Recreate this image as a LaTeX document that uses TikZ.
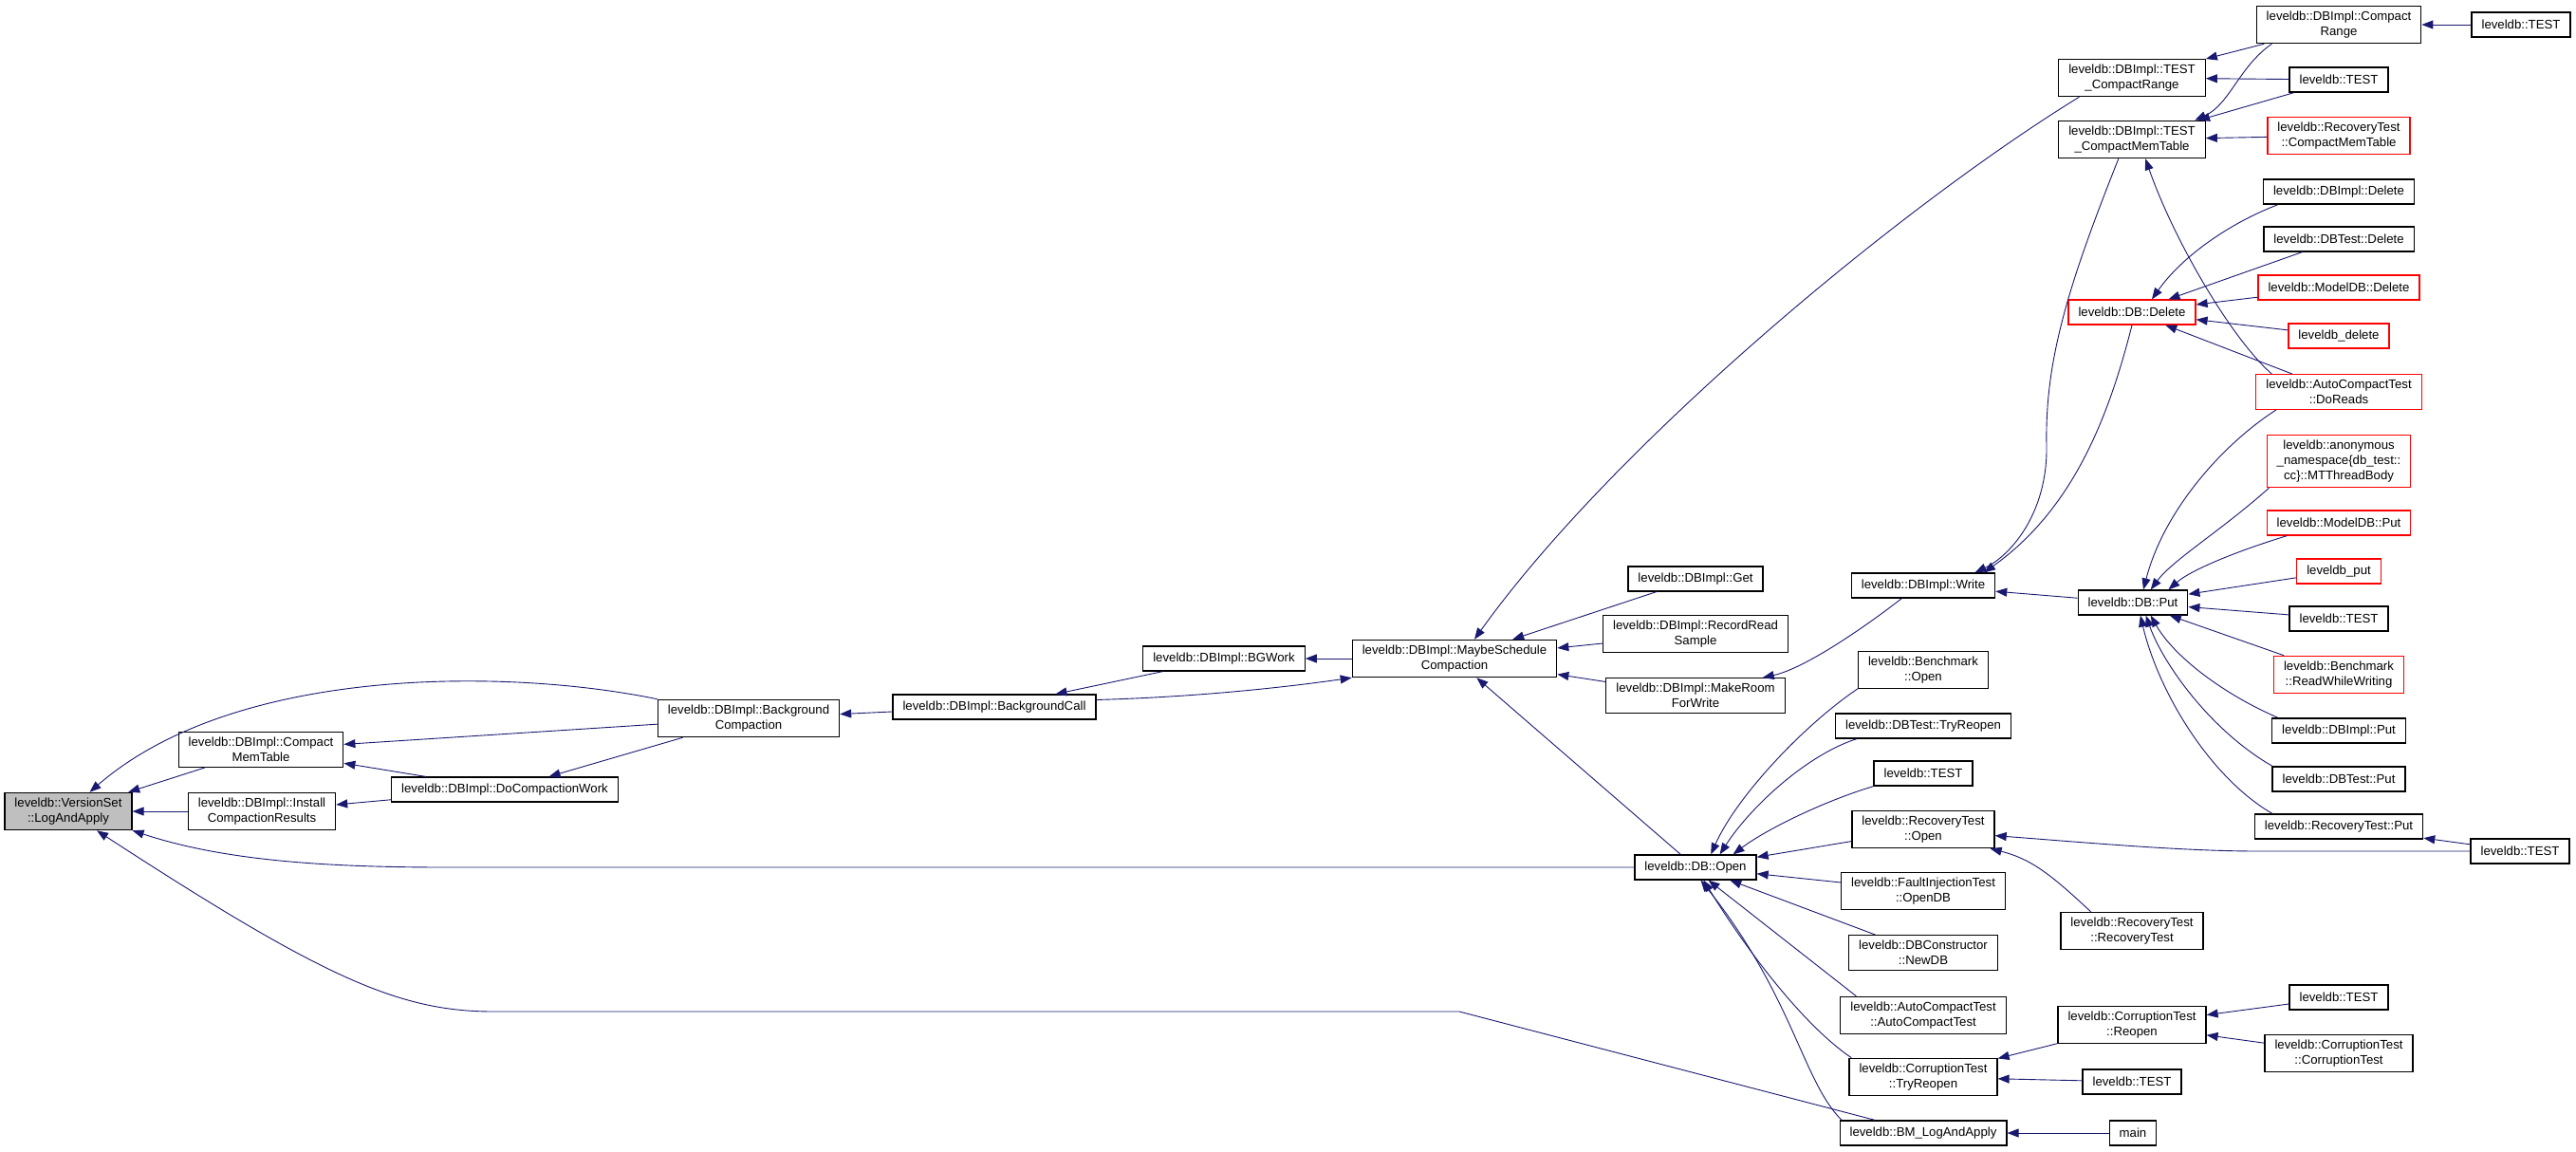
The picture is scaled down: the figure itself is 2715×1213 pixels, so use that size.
\documentclass[tikz,border=0pt]{standalone}
\usepackage{fontspec}
\setmainfont{Liberation Sans}
\usepackage{tikz}
\usetikzlibrary{arrows.meta}
\definecolor{edgeblue}{HTML}{191970}
\definecolor{focusgray}{HTML}{BFBFBF}

\begin{document}
\begin{tikzpicture}[x=1pt,y=-1pt]
		\tikzset{fn/.style={draw=black,line width=1.2pt,fill=white,align=center,inner xsep=10.5pt,inner ysep=5.5pt,minimum height=26pt,font=\fontsize{13.2}{16}\selectfont}};
		\tikzset{trunc/.style={fn,draw=red}};
		\tikzset{focus/.style={fn,fill=focusgray}};
		\tikzset{call/.style={draw=edgeblue,line width=0.9pt,-{Triangle[length=12pt,width=9pt]}}};
		\useasboundingbox (0,0) rectangle (2715,1213);
		\node[focus] (logapply) at (72,855) {leveldb::VersionSet\\::LogAndApply};
		\node[fn] (cmt) at (275,790) {leveldb::DBImpl::Compact\\MemTable};
		\node[fn] (icr) at (276,855) {leveldb::DBImpl::Install\\CompactionResults};
		\node[fn] (dcw) at (532,832) {leveldb::DBImpl::DoCompactionWork};
		\node[fn] (bgc) at (789,757) {leveldb::DBImpl::Background\\Compaction};
		\node[fn] (bcall) at (1048,745) {leveldb::DBImpl::BackgroundCall};
		\node[fn] (bgwork) at (1290,694) {leveldb::DBImpl::BGWork};
		\node[fn] (maybe) at (1533,694) {leveldb::DBImpl::MaybeSchedule\\Compaction};
		\node[fn] (get) at (1787,610) {leveldb::DBImpl::Get};
		\node[fn] (rrs) at (1787,668) {leveldb::DBImpl::RecordRead\\Sample};
		\node[fn] (mrw) at (1787,733) {leveldb::DBImpl::MakeRoom\\ForWrite};
		\node[fn] (open) at (1787,914) {leveldb::DB::Open};
		\node[fn] (write) at (2027,617) {leveldb::DBImpl::Write};
		\node[fn] (bmopen) at (2027,706) {leveldb::Benchmark\\::Open};
		\node[fn] (dtreopen) at (2027,765) {leveldb::DBTest::TryReopen};
		\node[fn] (testA) at (2027,815) {leveldb::TEST};
		\node[fn] (rtopen) at (2027,874) {leveldb::RecoveryTest\\::Open};
		\node[fn] (fiopen) at (2027,939) {leveldb::FaultInjectionTest\\::OpenDB};
		\node[fn] (newdb) at (2027,1004) {leveldb::DBConstructor\\::NewDB};
		\node[fn] (actest) at (2027,1070) {leveldb::AutoCompactTest\\::AutoCompactTest};
		\node[fn] (ctreopen) at (2027,1135) {leveldb::CorruptionTest\\::TryReopen};
		\node[fn] (bmlog) at (2027,1194) {leveldb::BM\_LogAndApply};
		\node[fn] (tcr) at (2247,82) {leveldb::DBImpl::TEST\\\_CompactRange};
		\node[fn] (tcmt) at (2247,147) {leveldb::DBImpl::TEST\\\_CompactMemTable};
		\node[trunc] (del) at (2247,329) {leveldb::DB::Delete};
		\node[fn] (put) at (2248,635) {leveldb::DB::Put};
		\node[fn] (rtrt) at (2247,981) {leveldb::RecoveryTest\\::RecoveryTest};
		\node[fn] (creopen) at (2247,1080) {leveldb::CorruptionTest\\::Reopen};
		\node[fn] (testB) at (2247,1140) {leveldb::TEST};
		\node[fn] (main) at (2248,1194) {main};
		\node[fn] (crange) at (2465,26) {leveldb::DBImpl::Compact\\Range};
		\node[fn] (testC) at (2465,84) {leveldb::TEST};
		\node[trunc] (rtcmt) at (2465,143) {leveldb::RecoveryTest\\::CompactMemTable};
		\node[fn] (idel) at (2465,202) {leveldb::DBImpl::Delete};
		\node[fn] (tdel) at (2465,252) {leveldb::DBTest::Delete};
		\node[trunc] (mdel) at (2465,303) {leveldb::ModelDB::Delete};
		\node[trunc] (cdel) at (2465,354) {leveldb\_delete};
		\node[trunc] (doreads) at (2465,413) {leveldb::AutoCompactTest\\::DoReads};
		\node[trunc] (mtbody) at (2465,486) {leveldb::anonymous\\\_namespace\{db\_test::\\cc\}::MTThreadBody};
		\node[trunc] (mput) at (2465,551) {leveldb::ModelDB::Put};
		\node[trunc] (cput) at (2465,602) {leveldb\_put};
		\node[fn] (testD) at (2465,652) {leveldb::TEST};
		\node[trunc] (rww) at (2465,711) {leveldb::Benchmark\\::ReadWhileWriting};
		\node[fn] (iput) at (2465,770) {leveldb::DBImpl::Put};
		\node[fn] (tput) at (2465,821) {leveldb::DBTest::Put};
		\node[fn] (rtput) at (2465,871) {leveldb::RecoveryTest::Put};
		\node[fn] (testE) at (2465,1051) {leveldb::TEST};
		\node[fn] (ctest) at (2465,1110) {leveldb::CorruptionTest\\::CorruptionTest};
		\node[fn] (testF) at (2657,26) {leveldb::TEST};
		\node[fn] (testG) at (2656,897) {leveldb::TEST};
		\draw[call] (cmt) -- (logapply);
		\draw[call] (icr) -- (logapply);
		\draw[call] (bgc.north west) .. controls (540,705) and (250,700) .. (logapply.42);
		\draw[call] (open.west) -- (470,914) .. controls (330,914) and (230,905) .. (logapply.south east);
		\draw[call] (bmlog.165) -- (1538,1066) -- (520,1066) .. controls (420,1066) and (340,1030) .. (logapply.-34);
		\draw[call] (bgc) -- (cmt);
		\draw[call] (dcw) -- (cmt);
		\draw[call] (dcw) -- (icr);
		\draw[call] (bgc) -- (dcw);
		\draw[call] (bcall) -- (bgc);
		\draw[call] (bgwork) -- (bcall);
		\draw[call] (maybe) -- (bgwork);
		\draw[call] (bcall.4) .. controls (1245,735) and (1335,727) .. (maybe.south west);
		\draw[call] (tcr.200) .. controls (2000,220) and (1700,470) .. (maybe.44);
		\draw[call] (get) -- (maybe);
		\draw[call] (rrs) -- (maybe);
		\draw[call] (mrw) -- (maybe);
		\draw[call] (open) -- (maybe);
		\draw[call] (write.211) .. controls (1960,665) and (1900,705) .. (mrw.15);
		\draw[call] (tcmt.235) .. controls (2180,300) and (2155,380) .. (2157,470) .. controls (2158,540) and (2120,585) .. (write.14);
		\draw[call] (del.south) .. controls (2220,450) and (2180,540) .. (write.12);
		\draw[call] (put) -- (write);
		\draw[call] (crange) -- (tcr);
		\draw[call] (testC) -- (tcr);
		\draw[call] (crange.196) .. controls (2360,70) and (2350,110) .. (tcmt.17);
		\draw[call] (testC) -- (tcmt);
		\draw[call] (rtcmt) -- (tcmt);
		\draw[call] (doreads.165) .. controls (2350,355) and (2290,250) .. (tcmt.-55);
		\draw[call] (testF) -- (crange);
		\draw[call] (idel.192) .. controls (2350,235) and (2300,270) .. (del.33);
		\draw[call] (tdel) -- (del);
		\draw[call] (mdel) -- (del);
		\draw[call] (cdel) -- (del);
		\draw[call] (doreads) -- (del);
		\draw[call] (doreads.196) .. controls (2340,470) and (2280,540) .. (put.51);
		\draw[call] (mtbody.201) .. controls (2340,560) and (2290,590) .. (put.36);
		\draw[call] (mput.194) .. controls (2360,580) and (2310,600) .. (put.20);
		\draw[call] (cput) -- (put);
		\draw[call] (testD) -- (put);
		\draw[call] (rww) -- (put);
		\draw[call] (iput.168) .. controls (2340,730) and (2290,690) .. (put.-36);
		\draw[call] (tput.169) .. controls (2330,770) and (2280,700) .. (put.-45);
		\draw[call] (rtput.169) .. controls (2330,820) and (2275,730) .. (put.-60);
		\draw[call] (testG) -- (rtput);
		\draw[call] (testG.west) -- (2380,897) .. controls (2300,897) and (2200,888) .. (rtopen.-5);
		\draw[call] (bmopen.196) .. controls (1900,765) and (1830,840) .. (open.40);
		\draw[call] (dtreopen.191) .. controls (1905,795) and (1845,850) .. (open.28);
		\draw[call] (testA.south west) .. controls (1920,845) and (1860,875) .. (open.19);
		\draw[call] (rtopen) -- (open);
		\draw[call] (fiopen) -- (open);
		\draw[call] (newdb) -- (open);
		\draw[call] (actest.164) -- (open.-45);
		\draw[call] (ctreopen.165) .. controls (1900,1080) and (1840,1000) .. (open.-58);
		\draw[call] (bmlog.171) .. controls (1900,1140) and (1890,1050) .. (open.-68);
		\draw[call] (rtrt.155) .. controls (2160,920) and (2140,905) .. (rtopen.-16);
		\draw[call] (creopen) -- (ctreopen);
		\draw[call] (testB) -- (ctreopen);
		\draw[call] (testE) -- (creopen);
		\draw[call] (ctest) -- (creopen);
		\draw[call] (main) -- (bmlog);
	\end{tikzpicture}
\end{document}
